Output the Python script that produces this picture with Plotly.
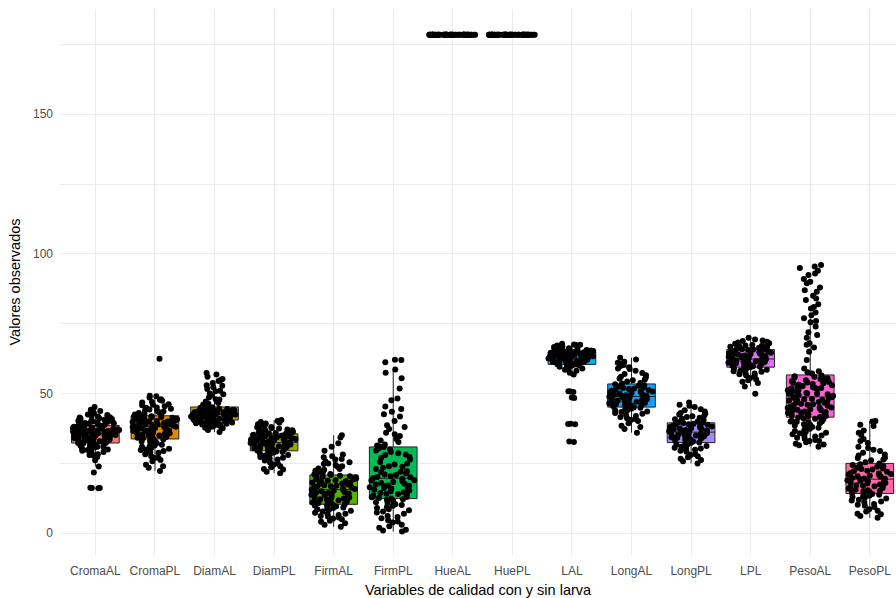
import plotly.graph_objects as go

categories = ["CromaAL", "CromaPL", "DiamAL", "DiamPL", "FirmAL", "FirmPL", "HueAL",
              "HuePL", "LAL", "LongAL", "LongPL", "LPL", "PesoAL", "PesoPL"]

croma_al = [16.2, 16.2, 16.3, 16.1, 21.7, 23.9, 26.1, 27.3, 28.0, 28.6, 29.1, 29.5, 30.0, 30.2,
            30.6, 30.9, 31.2, 31.5, 31.8, 32.0, 32.3, 32.6, 32.9, 33.1, 33.4, 33.6, 33.9, 34.1,
            34.3, 34.6, 34.8, 35.0, 35.2, 35.5, 35.7, 35.9, 36.1, 36.3, 36.5, 36.7, 36.9, 37.1,
            37.3, 37.5, 37.7, 37.9, 38.1, 38.3, 38.5, 38.8, 39.0, 39.2, 39.5, 39.8, 40.0, 40.3,
            40.6, 40.9, 41.2, 41.5, 41.8, 42.1, 42.5, 43.0, 43.8, 45.2, 33.3, 34.4, 36.0, 37.0,
            38.0, 35.3, 36.4, 37.6, 32.4, 39.9, 41.0, 35.8,
            30.4, 31.0, 31.6, 32.2, 32.8, 33.5, 34.0, 34.5, 35.1, 35.6, 36.2, 36.6, 37.2, 37.8,
            38.4, 38.9, 39.4, 40.1, 40.8, 41.4, 42.3, 29.8, 30.8, 33.0, 34.9, 36.8, 38.6, 39.6,
            37.4, 35.4, 33.8, 31.4, 40.4, 42.8, 44.2, 28.3, 27.8, 36.6, 37.8, 34.2]
croma_pl = [22.3, 23.4, 24.5, 25.8, 26.9, 27.6, 28.3, 29.0, 29.8, 30.5, 31.1, 31.7, 32.3, 32.8,
            33.3, 33.8, 34.2, 34.6, 35.0, 35.3, 35.7, 36.0, 36.4, 36.7, 37.0, 37.4, 37.7, 38.0,
            38.3, 38.6, 38.9, 39.2, 39.5, 39.8, 40.1, 40.4, 40.7, 41.0, 41.3, 41.6, 41.9, 42.2,
            42.5, 42.9, 43.3, 43.8, 44.3, 44.9, 45.5, 46.2, 47.0, 47.8, 48.6, 49.2, 62.5, 36.2,
            38.1, 39.9, 41.1, 37.2, 35.5, 40.0, 42.0, 43.0, 44.0, 34.0, 33.0, 45.0, 31.0, 30.0,
            28.8, 46.8, 48.0, 27.0,
            34.4, 35.1, 35.9, 36.6, 37.3, 38.2, 38.8, 39.4, 40.2, 40.9, 41.5, 42.3, 33.6, 32.6,
            31.4, 30.2, 29.4, 43.6, 44.6, 46.0, 47.4, 49.0, 37.9, 39.1, 36.9, 40.6, 35.8, 41.8,
            34.8, 38.4, 26.2, 24.0, 42.7, 45.8, 39.6]
diam_al = [36.2, 37.0, 37.6, 38.1, 38.5, 38.9, 39.2, 39.5, 39.8, 40.0, 40.2, 40.4, 40.6, 40.8,
           41.0, 41.2, 41.4, 41.6, 41.8, 42.0, 42.2, 42.4, 42.6, 42.8, 43.0, 43.2, 43.4, 43.6,
           43.8, 44.0, 44.2, 44.5, 44.8, 45.1, 45.5, 46.0, 46.6, 47.2, 47.9, 48.6, 49.3, 50.0,
           50.8, 51.6, 52.3, 53.0, 53.8, 54.5, 55.2, 56.0, 56.8, 57.4, 39.0, 40.1, 41.1, 41.9,
           42.7, 43.5, 44.3, 40.5, 41.5, 42.5, 43.1, 38.7, 39.6, 44.9, 45.8, 47.5, 49.8, 51.0,
           38.3, 38.8, 39.1, 39.4, 39.7, 40.0, 40.3, 40.6, 40.9, 41.2, 41.5, 41.8, 42.1, 42.4,
           42.7, 43.0, 43.3, 43.6, 43.9, 44.2, 44.6, 39.9, 40.7, 41.3, 41.7, 42.3, 42.9, 43.4,
           43.9, 40.3, 41.0, 42.0, 37.8, 45.3, 48.0, 52.8, 54.9, 46.4]
diam_pl = [21.5, 22.0, 22.8, 23.6, 24.5, 25.3, 26.0, 26.7, 27.3, 27.8, 28.3, 28.7, 29.1, 29.5,
           29.9, 30.2, 30.5, 30.8, 31.1, 31.4, 31.7, 32.0, 32.3, 32.6, 32.9, 33.2, 33.5, 33.8,
           34.1, 34.4, 34.7, 35.0, 35.3, 35.6, 35.9, 36.3, 36.7, 37.1, 37.5, 38.0, 38.5, 39.0,
           39.6, 40.2, 40.5, 30.0, 31.0, 32.1, 33.0, 34.0, 35.1, 29.3, 28.5, 36.0, 37.0, 33.7,
           31.9, 27.0, 25.0, 38.8,
           28.0, 28.9, 29.7, 30.4, 31.2, 31.8, 32.4, 33.1, 33.9, 34.6, 35.4, 36.1, 36.9, 37.7,
           38.3, 39.3, 30.7, 31.5, 32.8, 33.4, 34.3, 35.8, 26.4, 24.0, 23.0, 29.6, 37.9, 39.8,
           32.2, 34.9]
firm_al = [2.3, 3.0, 4.1, 5.0, 5.6, 6.2, 6.8, 7.3, 7.8, 8.3, 8.8, 9.2, 9.6, 10.0, 10.4, 10.8,
           11.2, 11.6, 12.0, 12.4, 12.8, 13.2, 13.6, 14.0, 14.4, 14.8, 15.2, 15.6, 16.0, 16.4,
           16.8, 17.2, 17.6, 18.0, 18.4, 18.8, 19.2, 19.6, 20.0, 20.4, 20.8, 21.2, 21.7, 22.2,
           22.7, 23.2, 23.8, 24.4, 25.0, 25.7, 26.4, 27.2, 28.2, 29.5, 31.0, 32.2, 34.3, 35.1,
           11.0, 13.0, 15.0, 17.0, 19.0, 14.2, 16.2, 12.2, 18.2, 9.8, 20.6, 8.0, 24.0, 6.5,
           5.3, 7.0, 8.6, 9.9, 10.6, 11.4, 12.6, 13.4, 14.6, 15.4, 16.6, 17.4, 18.6, 19.4,
           20.2, 21.0, 22.4, 23.0, 24.8, 25.4, 26.6, 27.6, 13.8, 15.8, 17.8, 11.8, 9.0, 10.2,
           19.8, 21.6, 3.6, 4.5, 6.0]
firm_pl = [0.6, 1.2, 2.0, 3.0, 3.8, 4.6, 5.4, 6.2, 7.0, 7.8, 8.6, 9.4, 10.1, 10.8, 11.5, 12.2,
           12.9, 13.5, 14.1, 14.7, 15.3, 15.9, 16.5, 17.1, 17.7, 18.3, 18.9, 19.5, 20.1, 20.8,
           21.5, 22.2, 23.0, 23.8, 24.6, 25.5, 26.4, 27.3, 28.2, 29.1, 30.0, 30.9, 31.8, 32.7,
           33.7, 34.8, 36.0, 37.3, 38.7, 40.2, 41.8, 43.5, 45.4, 47.6, 48.2, 51.8, 55.5, 57.5,
           58.6, 61.2, 62.0, 62.1, 14.0, 15.0, 16.0, 17.0, 18.0, 19.0, 20.0, 21.0, 12.0, 13.0,
           22.0, 24.0, 28.0, 31.0, 9.0,
           2.5, 4.2, 5.8, 7.4, 9.8, 11.1, 12.6, 13.8, 14.4, 15.6, 16.8, 18.6, 19.8, 21.8,
           23.4, 25.0, 26.9, 29.6, 31.4, 33.2, 35.4, 38.0, 42.6, 44.5, 12.4, 17.4, 20.4, 16.2,
           28.6, 30.4, 1.0, 8.2, 10.4]
hue_al = [178.5, 178.5, 178.5, 178.5, 178.5, 178.5, 178.5, 178.5, 178.5, 178.5, 178.5, 178.5,
          178.5, 178.5, 178.5, 178.5, 178.5, 178.5, 178.5, 178.5, 178.5, 178.5, 178.5, 178.5,
          178.5, 178.5, 178.5, 178.5, 178.5, 178.5, 178.5, 178.5, 178.5, 178.5, 178.5, 178.5,
          178.5, 178.5, 178.5, 178.5, 178.5, 178.5, 178.5, 178.5, 178.5, 178.5, 178.5, 178.5,
          178.5, 178.5, 178.5, 178.5, 178.5, 178.5, 178.5, 178.5, 178.5, 178.5, 178.5, 178.5]
hue_pl = [178.5, 178.5, 178.5, 178.5, 178.5, 178.5, 178.5, 178.5, 178.5, 178.5, 178.5, 178.5,
          178.5, 178.5, 178.5, 178.5, 178.5, 178.5, 178.5, 178.5, 178.5, 178.5, 178.5, 178.5,
          178.5, 178.5, 178.5, 178.5, 178.5, 178.5, 178.5, 178.5, 178.5, 178.5, 178.5, 178.5,
          178.5, 178.5, 178.5, 178.5, 178.5, 178.5, 178.5, 178.5, 178.5, 178.5, 178.5, 178.5,
          178.5, 178.5, 178.5, 178.5, 178.5, 178.5, 178.5, 178.5, 178.5, 178.5, 178.5, 178.5]
l_al = [32.7, 32.8, 39.0, 39.1, 39.2, 48.4, 48.6, 50.6, 50.7, 50.8, 56.8, 57.5, 58.2, 58.8,
        59.3, 59.7, 60.1, 60.4, 60.7, 61.0, 61.3, 61.6, 61.9, 62.2, 62.5, 62.8, 63.1, 63.4,
        63.7, 64.0, 64.3, 64.6, 64.9, 65.2, 65.5, 65.8, 66.1, 66.4, 66.7, 67.0, 67.4, 67.8,
        61.5, 62.0, 62.6, 63.0, 63.5, 64.2, 64.8, 65.4, 60.5, 66.0, 63.3, 62.4, 64.5, 61.8,
        65.0, 66.6, 59.0, 60.0, 67.2, 63.8,
        60.3, 60.9, 61.4, 61.7, 62.1, 62.3, 62.7, 62.9, 63.2, 63.6, 63.9, 64.1, 64.4, 64.7,
        65.1, 65.6, 66.3, 66.9, 67.5, 58.5, 59.6, 61.1, 62.9, 64.9, 66.2, 63.4, 62.6, 65.3,
        61.2, 67.6]
long_al = [36.0, 37.3, 38.5, 39.4, 40.2, 40.9, 41.6, 42.2, 42.8, 43.4, 43.9, 44.4, 44.9, 45.3,
           45.7, 46.1, 46.5, 46.9, 47.3, 47.7, 48.0, 48.4, 48.8, 49.2, 49.6, 50.0, 50.4, 50.8,
           51.2, 51.6, 52.0, 52.5, 53.0, 53.6, 54.3, 55.0, 55.8, 56.6, 57.4, 58.2, 59.0, 59.8,
           60.6, 61.4, 62.2, 62.8, 45.0, 46.0, 47.0, 48.2, 49.0, 50.2, 44.0, 43.0, 51.5, 53.3,
           47.5, 42.0, 56.0, 58.8,
           44.6, 45.5, 46.3, 46.7, 47.1, 47.9, 48.6, 49.4, 50.6, 51.0, 51.8, 52.3, 53.8, 55.4,
           57.0, 59.4, 61.0, 41.2, 43.6, 45.9, 48.9, 50.7, 52.8, 38.0, 40.5, 54.8, 60.2, 49.8]
long_pl = [25.0, 25.8, 26.7, 27.6, 28.4, 29.2, 29.9, 30.6, 31.2, 31.8, 32.3, 32.8, 33.2, 33.6,
           34.0, 34.4, 34.8, 35.2, 35.6, 36.0, 36.4, 36.8, 37.2, 37.6, 38.0, 38.4, 38.8, 39.2,
           39.6, 40.0, 40.5, 41.0, 41.6, 42.2, 42.9, 43.6, 44.4, 45.2, 46.0, 46.8, 34.5, 35.5,
           36.5, 37.5, 33.0, 38.5, 39.5, 32.0, 31.0, 30.0, 36.2, 37.0, 35.0, 28.0, 41.3, 43.0,
           31.5, 32.5, 33.4, 34.2, 35.4, 36.6, 37.4, 38.2, 39.0, 39.8, 40.8, 42.5, 44.0, 45.6,
           29.5, 30.3, 27.2, 26.2, 35.8, 37.8, 36.3, 34.6, 41.9, 38.9, 33.8]
l_pl = [49.9, 52.5, 53.8, 54.8, 55.6, 56.3, 56.9, 57.5, 58.0, 58.5, 59.0, 59.4, 59.8, 60.2,
        60.6, 61.0, 61.4, 61.8, 62.2, 62.6, 63.0, 63.4, 63.8, 64.2, 64.6, 65.0, 65.4, 65.8,
        66.2, 66.6, 67.0, 67.4, 67.8, 68.3, 68.8, 69.4, 70.0, 60.0, 61.2, 62.4, 63.6, 64.8,
        66.0, 59.2, 57.8, 67.6, 62.0, 63.2, 61.6, 65.2, 58.8, 55.0, 60.8, 64.0, 66.8,
        58.2, 59.6, 60.4, 61.6, 62.8, 63.4, 64.4, 65.6, 66.4, 67.2, 68.0, 69.0, 56.6, 57.2,
        60.9, 62.3, 63.9, 65.9, 61.3, 64.3, 59.9, 67.1, 68.6, 54.2]
peso_al = [31.0, 31.8, 32.6, 33.4, 34.2, 35.0, 35.8, 36.6, 37.4, 38.2, 39.0, 39.7, 40.4, 41.1,
           41.8, 42.5, 43.2, 43.9, 44.6, 45.3, 46.0, 46.7, 47.4, 48.1, 48.8, 49.5, 50.2, 50.9,
           51.6, 52.3, 53.0, 53.7, 54.4, 55.1, 55.8, 56.5, 57.2, 58.0, 59.0, 62.0, 65.0, 66.5,
           68.0, 70.0, 72.0, 74.0, 75.5, 77.0, 78.0, 79.0, 80.5, 82.0, 83.5, 85.0, 86.5, 88.0,
           89.5, 91.0, 92.5, 94.0, 95.5, 96.0, 45.0, 47.0, 50.0, 52.0, 54.0, 42.0, 44.0, 48.0,
           36.0, 38.0, 40.0, 56.0, 33.0, 87.0, 81.0,
           32.0, 34.6, 36.2, 37.8, 39.4, 40.8, 42.2, 43.6, 45.0, 46.4, 47.8, 49.2, 50.6, 52.0,
           53.4, 54.8, 56.2, 41.4, 43.0, 44.8, 46.2, 48.4, 49.8, 51.2, 53.2, 55.4, 38.8, 35.4,
           33.8, 57.6, 67.5, 71.0, 76.0, 84.0, 90.0, 93.0, 95.0,
           31.5, 33.0, 34.8, 36.9, 38.6, 40.0, 41.6, 42.8, 44.2, 45.6, 47.0, 48.5, 49.9, 51.4,
           52.7, 54.1, 55.5, 44.4, 46.8, 50.4, 52.5, 42.6, 48.9, 39.9, 53.9, 43.4, 47.6, 50.0,
           45.8, 41.0, 51.8]
peso_pl = [5.5, 6.2, 7.0, 7.8, 8.6, 9.4, 10.2, 11.0, 11.7, 12.4, 13.1, 13.8, 14.4, 15.0, 15.6,
           16.2, 16.8, 17.4, 18.0, 18.6, 19.2, 19.8, 20.4, 21.0, 21.6, 22.2, 22.8, 23.4, 24.0,
           24.7, 25.4, 26.1, 26.9, 27.8, 28.8, 29.9, 31.0, 32.3, 33.7, 35.2, 36.8, 38.4, 40.0,
           40.2, 16.0, 17.0, 18.2, 19.5, 20.8, 22.0, 14.0, 13.0, 23.8, 25.0, 12.0, 27.0, 10.5,
           21.4, 15.2, 30.5,
           8.0, 9.8, 11.4, 12.8, 13.4, 14.2, 14.8, 15.4, 16.4, 17.2, 17.8, 18.4, 19.0, 19.6,
           20.2, 21.2, 22.4, 23.2, 24.4, 26.4, 28.2, 29.4, 33.0, 36.0, 38.8, 6.8, 16.6, 18.8,
           20.6, 23.0]

series = [croma_al, croma_pl, diam_al, diam_pl, firm_al, firm_pl, hue_al, hue_pl,
          l_al, long_al, long_pl, l_pl, peso_al, peso_pl]

colors = ["#F8766D", "#E38900", "#C49A00", "#99A800", "#53B400", "#00BC56", "#00C094",
          "#00BFC4", "#00B6EB", "#06A4FF", "#A58AFF", "#DF70F8", "#FB61D7", "#FF66A8"]

fig = go.Figure()
for cat, vals, col in zip(categories, series, colors):
    fig.add_trace(go.Box(
        x=[cat] * len(vals), y=vals, name=cat,
        fillcolor=col, line=dict(color="#222222", width=1),
        boxpoints="all", jitter=1, pointpos=0, width=0.8, whiskerwidth=0,
        marker=dict(color="black", size=6, opacity=1, line=dict(width=0)),
        showlegend=False, hoverinfo="y",
    ))

grid = "#EBEBEB"
fig.update_layout(
    width=896, height=598,
    margin=dict(l=60, r=0, t=9, b=43),
    paper_bgcolor="white", plot_bgcolor="white",
    boxmode="overlay",
    font=dict(family="Liberation Sans, Arial, sans-serif", color="#4D4D4D", size=12),
    xaxis=dict(
        type="category", categoryorder="array", categoryarray=categories,
        range=[-0.594, 13.44], showgrid=True, gridcolor=grid, gridwidth=1,
        zeroline=False, showline=False, ticks="", ticklabelstandoff=7,
        automargin=False,
        tickfont=dict(size=12, color="#4D4D4D"),
        title=dict(text="Variables de calidad con y sin larva",
                   font=dict(size=14.5, color="black"), standoff=8),
    ),
    yaxis=dict(
        range=[-7.8, 187.7], tickvals=[0, 50, 100, 150],
        showgrid=True, gridcolor=grid, gridwidth=1, zeroline=False, showline=False,
        ticks="", ticklabelstandoff=6, automargin=False,
        tickfont=dict(size=12, color="#4D4D4D"),
        minor=dict(tickvals=[25, 75, 125, 175], showgrid=True, gridcolor=grid, gridwidth=0.5),
        title=dict(text="Valores observados", font=dict(size=14.5, color="black"), standoff=8),
    ),
)

fig.write_html("out.html", config={"displayModeBar": False},
               post_script="document.body.style.margin='0';document.body.style.overflow='hidden';")
